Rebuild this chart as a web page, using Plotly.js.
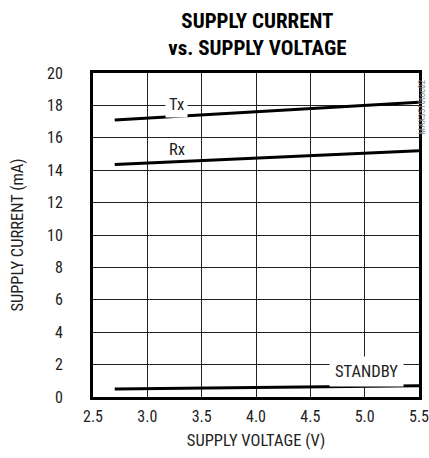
<!DOCTYPE html>
<html><head><meta charset="utf-8">
<script src="https://cdn.plot.ly/plotly-3.0.1.min.js"></script>
<style>html,body{margin:0;padding:0;background:#fff}#chart{width:429px;height:458px}</style>
</head><body><div id="chart"></div>
<script>
var voltage = [2.7, 5.5];
var txCurrent = [17.1, 18.2];
var rxCurrent = [14.35, 15.2];
var standbyCurrent = [0.5, 0.7];
var xTicks = [2.5, 3.0, 3.5, 4.0, 4.5, 5.0, 5.5];
var xTickText = ["2.5", "3.0", "3.5", "4.0", "4.5", "5.0", "5.5"];
var yTicks = [0, 2, 4, 6, 8, 10, 12, 14, 16, 18, 20];

var COND = '"Roboto Condensed", "Liberation Sans Narrow", sans-serif';
var line = {color: '#000', width: 3};
var traces = [
  {x: voltage, y: txCurrent, mode: 'lines', line: line, name: 'Tx'},
  {x: voltage, y: rxCurrent, mode: 'lines', line: line, name: 'Rx'},
  {x: voltage, y: standbyCurrent, mode: 'lines', line: line, name: 'STANDBY'}
];
var layout = {
  width: 429, height: 458,
  margin: {l: 93, r: 10, t: 73, b: 61},
  paper_bgcolor: '#fff', plot_bgcolor: '#fff',
  showlegend: false,
  font: {family: COND, size: 16, color: '#222'},
  title: {text: '<b>SUPPLY CURRENT<br>vs. SUPPLY VOLTAGE</b>', xref: 'container', x: 0.6, xanchor: 'center',
          yref: 'container', y: 0.939, yanchor: 'top',
          font: {family: COND, size: 21, color: '#000'}},
  xaxis: {range: [2.5, 5.5], tickvals: xTicks, ticktext: xTickText, showgrid: true, gridcolor: '#222', gridwidth: 1,
          showline: true, linecolor: '#000', linewidth: 3, mirror: true, ticks: '', zeroline: false,
          ticklabelstandoff: 3, ticklabeloverflow: 'allow',
          title: {text: 'SUPPLY VOLTAGE (V)', font: {family: COND, size: 16.5, color: '#222'}, standoff: 10},
          tickfont: {family: COND, size: 16, color: '#222'}},
  yaxis: {range: [0, 20], tickvals: yTicks, showgrid: true, gridcolor: '#222', gridwidth: 1,
          showline: true, linecolor: '#000', linewidth: 3, mirror: true, ticks: '', zeroline: false,
          ticklabelstandoff: 24, ticklabeloverflow: 'allow',
          title: {text: 'SUPPLY CURRENT (mA)', font: {family: COND, size: 16.5, color: '#222'}, standoff: 20},
          tickfont: {family: COND, size: 16, color: '#222'}},
  shapes: [
    {type: 'line', xref: 'paper', yref: 'paper', x0: 1.0215, x1: 1.0215, y0: 0.78, y1: 0.99,
     line: {color: 'rgba(0,0,0,0)', width: 1},
     label: {text: 'MAX3510toc02', textangle: -90, textposition: 'middle', font: {family: COND, size: 9, color: '#888'}}}
  ],
  annotations: [
    {x: 3.27, y: 18.05, text: 'Tx', showarrow: false, bgcolor: '#fff', borderpad: 3, font: {family: COND, size: 16.5, color: '#222'}},
    {x: 3.27, y: 15.3, text: 'Rx', showarrow: false, font: {family: COND, size: 16.5, color: '#222'}},
    {x: 5.02, y: 1.6, text: 'STANDBY', showarrow: false, bgcolor: '#fff', borderpad: 5, font: {family: COND, size: 16.5, color: '#222'}}
  ]
};
Plotly.newPlot('chart', traces, layout, {displayModeBar: false, staticPlot: true});
</script></body></html>
